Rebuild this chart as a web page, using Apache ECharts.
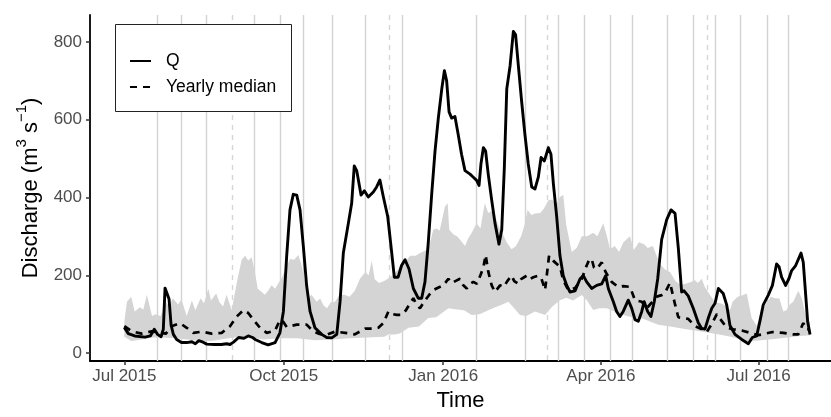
<!DOCTYPE html>
<html>
<head>
<meta charset="utf-8">
<script src="https://cdn.jsdelivr.net/npm/echarts@6/dist/echarts.min.js"></script>
<style>
  html, body { margin: 0; padding: 0; background: #fff; }
  #chart { width: 831px; height: 417px; }
</style>
</head>
<body>
<div id="chart"></div>
<script>
// Day offsets are counted from 1 July 2015 (UTC)
const START = Date.UTC(2015, 6, 1);
const DAY_MS = 86400000;

// Observed discharge Q (m3/s)
const qDays = [0, 2.3, 6, 12, 15, 17.3, 19.2, 21.2, 22.5, 23.5, 24.4, 25.8, 27, 28.3, 30.2, 33, 36, 39, 41, 43, 45, 47.5, 52, 56, 59, 61, 63, 66, 69, 71.5, 74, 75.5, 79.3, 83, 87, 89.8, 91.8, 93.7, 95.6, 97.5, 99.5, 101.4, 103.3, 105.2, 107.2, 110, 113.9, 116.8, 119.7, 122.6, 124.5, 126.4, 129.3, 131.2, 132.7, 134.1, 136.6, 138.5, 140.8, 143.7, 145.6, 147.5, 149.5, 152, 154.3, 155.8, 158, 160, 162, 164.3, 166.8, 169.6, 171.6, 173.5, 175.4, 177.4, 179.3, 181.2, 183.2, 184.7, 186, 187.4, 188.9, 190.8, 192.7, 194.6, 196.6, 199.5, 201.4, 203.3, 204.7, 205.8, 207.2, 208.5, 210, 212, 213.9, 216.2, 217.8, 219.3, 220.7, 222.6, 224.5, 225.8, 227.4, 229.3, 231.2, 233.1, 235.1, 237, 238.9, 240.5, 242.4, 244.7, 246.2, 247.6, 249.5, 251.4, 253.3, 255.3, 257.2, 260.1, 263, 264.9, 266.8, 269.7, 272.6, 275.5, 277.8, 279.3, 282.2, 284.1, 286, 287.9, 290.8, 292.8, 294.7, 296.6, 298.6, 300, 302, 303.9, 305.8, 307.8, 310.1, 313, 315.5, 317.8, 319.7, 321.6, 323, 325.4, 328.3, 331.2, 333.2, 335.1, 337, 339, 340.9, 342.8, 345.6, 347.6, 349.5, 352.4, 356.3, 360.1, 362.4, 364.9, 366.8, 368.7, 371.6, 374, 376.4, 377.8, 379.3, 381.6, 383.5, 385.1, 387.4, 390.5, 391.8, 393.2, 394.3, 395.7];
const qValues = [66, 50, 44, 41, 44, 61, 48, 42, 61, 167, 165, 139, 72, 48, 35, 27, 27, 29, 24, 32, 29, 23, 22, 22, 24, 22, 28, 40, 38, 44, 40, 35, 27, 21, 27, 52, 107, 250, 368, 408, 406, 368, 275, 174, 107, 65, 48, 40, 39, 48, 132, 258, 334, 385, 481, 469, 406, 417, 401, 414, 427, 445, 401, 351, 258, 195, 195, 225, 240, 216, 166, 141, 141, 183, 284, 410, 519, 604, 679, 726, 700, 620, 604, 608, 561, 511, 469, 460, 452, 444, 431, 486, 528, 519, 460, 393, 334, 280, 317, 477, 679, 738, 827, 818, 738, 646, 561, 486, 427, 422, 452, 503, 494, 528, 511, 435, 351, 250, 199, 174, 157, 160, 191, 199, 183, 166, 174, 178, 199, 166, 132, 107, 94, 107, 136, 115, 86, 82, 107, 132, 107, 94, 132, 191, 292, 343, 368, 359, 270, 157, 160, 147, 115, 78, 63, 62, 90, 115, 128, 166, 153, 124, 71, 48, 35, 24, 40, 44, 82, 124, 149, 174, 229, 222, 195, 174, 191, 212, 225, 257, 233, 149, 82, 48];

// Yearly median discharge
const medianDays = [0, 4.3, 10, 15.8, 20.6, 24, 27.3, 32.1, 36, 39.8, 44.7, 50.4, 56.2, 61, 64.9, 68.7, 71.5, 74.4, 78.3, 82.2, 87, 89.8, 91.8, 93.7, 99.5, 105.2, 109, 112, 116, 121.6, 127.4, 133, 139, 144.7, 146.6, 149.5, 152.4, 155, 157.2, 160, 162.5, 164.9, 166.8, 168, 170.6, 172, 174.5, 176, 178.3, 181, 184.1, 187, 189, 191, 193.7, 195.5, 197.6, 199.5, 201.4, 203.5, 205.5, 207.2, 208.5, 210, 212, 213.9, 216.8, 219, 221, 223.5, 225, 227.4, 229, 232.2, 234, 236, 238.9, 240.8, 242.8, 245.1, 247.6, 251.4, 253.3, 256.2, 260.1, 264, 266.8, 268.3, 269.7, 271, 272.6, 275.5, 277.8, 281.2, 285, 288, 291.8, 294.7, 298.6, 301.4, 304, 307.2, 310.1, 312, 314.9, 317.8, 319.7, 322.6, 325.4, 329.3, 333, 336.1, 339, 341.9, 344.8, 347.6, 351.4, 356.3, 361, 365.8, 370, 374, 380.3, 386, 388.9, 391.8, 393.8, 395.7];
const medianValues = [69, 56, 50, 56, 52, 50, 69, 77, 65, 52, 55, 50, 52, 69, 94, 110, 103, 86, 65, 52, 58, 85, 80, 67, 73, 73, 56, 50, 46, 55, 52, 48, 63, 63, 65, 77, 107, 100, 98, 98, 110, 128, 141, 130, 115, 125, 141, 150, 162, 168, 174, 191, 180, 185, 191, 175, 166, 178, 183, 178, 200, 220, 252, 210, 174, 157, 174, 170, 185, 199, 185, 178, 190, 199, 190, 195, 199, 190, 162, 250, 237, 222, 187, 162, 167, 191, 225, 240, 242, 220, 216, 233, 208, 183, 170, 172, 170, 136, 132, 115, 128, 145, 149, 155, 181, 125, 92, 90, 88, 69, 62, 54, 75, 100, 82, 65, 61, 58, 52, 46, 50, 54, 52, 48, 48, 77, 60, 62];

// Range of discharge across years: upper and lower envelope
const bandUpperDays = [0, 1.5, 4, 6, 9, 11, 13, 16, 18, 21, 24, 26, 28, 31, 33, 36, 39, 41, 44, 46, 48.5, 50, 53, 55, 57, 59, 62, 65, 67.7, 69.7, 71.5, 73.5, 75.5, 77, 79.3, 81, 83, 85, 87, 89, 91, 93, 95.6, 98, 100.4, 102, 104.3, 106, 108, 111, 113, 115, 117, 119, 121.6, 124, 127, 130, 133, 136, 139, 141, 142.8, 144.5, 147, 150, 152.4, 155, 158, 160, 163, 165, 168, 171, 175.4, 178.3, 180, 182, 185, 186.6, 187.5, 190, 192, 194, 196.6, 198.5, 200.5, 203.3, 205.5, 208, 210, 212, 214, 216.5, 219, 220.7, 223.5, 226, 229, 231, 232.7, 235, 237, 240, 242, 244.7, 247, 249, 251.4, 253.3, 255, 258.2, 261, 264, 267, 270.6, 273, 276.4, 278.5, 280.3, 283, 285.5, 288, 291.8, 294, 297, 300, 302, 305, 309, 312, 315, 318, 321, 324, 327.4, 329.3, 331, 333.2, 335, 338, 341, 344, 347, 349.5, 351, 354, 357.2, 359.2, 362, 364.9, 367, 370, 373, 375.5, 378, 380.3, 382, 384, 386, 388.9, 391, 393, 395.7];
const bandUpperValues = [80, 132, 145, 107, 118, 112, 150, 95, 100, 95, 130, 120, 141, 125, 138, 95, 135, 110, 141, 128, 165, 135, 153, 130, 120, 150, 110, 183, 240, 250, 238, 246, 205, 165, 157, 150, 160, 174, 165, 180, 195, 216, 242, 240, 252, 230, 183, 141, 150, 132, 140, 122, 115, 130, 132, 149, 150, 145, 160, 191, 208, 200, 237, 190, 180, 185, 192, 200, 215, 233, 240, 250, 250, 258, 267, 317, 320, 315, 376, 385, 317, 305, 300, 290, 275, 295, 309, 334, 320, 385, 360, 365, 351, 320, 300, 284, 267, 275, 300, 330, 368, 355, 359, 360, 370, 393, 395, 380, 401, 406, 330, 260, 270, 300, 300, 309, 300, 334, 300, 267, 275, 260, 285, 300, 265, 285, 280, 270, 275, 229, 215, 208, 185, 175, 178, 183, 187, 180, 191, 170, 149, 130, 128, 122, 111, 132, 145, 149, 153, 90, 70, 100, 125, 145, 141, 140, 107, 110, 125, 132, 160, 140, 100, 80];
const bandLowerDays = [0, 4, 10, 16, 22, 30, 40, 50, 60, 70, 80, 90, 100, 110, 120, 130, 140, 150, 152.4, 156, 159, 164, 170, 175.4, 180, 187, 192, 196, 200.5, 205, 210, 214, 217.8, 221.6, 225, 228.3, 232, 237, 242.8, 247, 251.4, 255, 259, 264, 267, 270.6, 274, 278.4, 282, 287.9, 294.7, 299.5, 304, 308.2, 315, 324.5, 334, 343.3, 350, 359.2, 366, 375, 383, 389.9, 395.7];
const bandLowerValues = [42, 31, 35, 40, 40, 38, 33, 31, 38, 44, 35, 38, 38, 33, 35, 38, 40, 42, 48, 48, 50, 65, 68, 90, 92, 115, 112, 110, 98, 100, 110, 118, 124, 132, 115, 98, 95, 107, 98, 120, 136, 142, 135, 149, 135, 111, 115, 115, 108, 98, 90, 88, 80, 73, 68, 61, 55, 48, 42, 31, 32, 36, 40, 44, 46];

// Vertical reference lines: sampling dates (solid) and season starts (dashed)
const sampleDates = ['2015-07-20', '2015-08-03', '2015-08-17', '2015-09-14', '2015-09-29', '2015-10-12', '2015-10-29', '2015-11-17', '2015-12-08', '2016-01-20', '2016-02-17', '2016-03-07', '2016-03-22', '2016-04-06', '2016-04-19', '2016-05-09', '2016-05-24', '2016-06-06', '2016-06-20', '2016-07-06', '2016-07-18'];
const seasonStarts = ['2015-09-01', '2015-12-01', '2016-03-01', '2016-06-01'];

// Axis ticks
const xTickDates = ['2015-07-01', '2015-10-01', '2016-01-01', '2016-04-01', '2016-07-01'];
const xTickLabels = ['Jul 2015', 'Oct 2015', 'Jan 2016', 'Apr 2016', 'Jul 2016'];
const yTicks = [0, 200, 400, 600, 800];

const dayToMs = d => START + d * DAY_MS;
const pairs = (days, vals) => days.map((d, i) => [dayToMs(d), vals[i]]);
const xTickMs = xTickDates.map(s => Date.parse(s));

const FONT = '"Liberation Sans", Arial, Helvetica, sans-serif';

function vlineSeries(name, dates, style) {
  return {
    name: name,
    type: 'custom',
    z: 1,
    silent: true,
    data: dates.map(s => [Date.parse(s), 0]),
    renderItem: function (params, api) {
      const cs = params.coordSys;
      const x = Math.round(api.coord([api.value(0), 0])[0]) + 0.5;
      return {
        type: 'line',
        shape: { x1: x, y1: cs.y, x2: x, y2: cs.y + cs.height },
        style: style
      };
    }
  };
}

const chart = echarts.init(document.getElementById('chart'), null, { renderer: 'canvas' });

chart.setOption({
  animation: false,
  backgroundColor: '#ffffff',
  textStyle: { fontFamily: FONT },
  grid: { left: 90, right: 0, top: 15, bottom: 50 },
  xAxis: {
    type: 'value',
    min: dayToMs(-19.8),
    max: dayToMs(407.8),
    name: 'Time',
    nameLocation: 'middle',
    nameGap: 29,
    nameTextStyle: { fontSize: 22, color: '#000', fontFamily: FONT },
    splitLine: { show: false },
    axisLine: { show: true, onZero: false, lineStyle: { color: '#000', width: 1.8 } },
    axisTick: { show: true, length: 4, customValues: xTickMs, lineStyle: { color: '#333', width: 1.5 } },
    axisLabel: {
      customValues: xTickMs,
      margin: 7,
      fontSize: 17,
      color: '#4d4d4d',
      fontFamily: FONT,
      formatter: function (v) {
        const i = xTickMs.indexOf(v);
        return i >= 0 ? xTickLabels[i] : '';
      }
    }
  },
  yAxis: {
    type: 'value',
    min: -20.4,
    max: 869,
    name: '{t|Discharge (m}{s|3}{t| s}{s|−1}{t|)}',
    nameLocation: 'middle',
    nameRotate: 90,
    nameGap: 48,
    nameTextStyle: {
      color: '#000',
      fontFamily: FONT,
      rich: {
        t: { fontSize: 22, lineHeight: 28, verticalAlign: 'bottom', color: '#000', fontFamily: FONT },
        s: { fontSize: 15, lineHeight: 28, verticalAlign: 'top', color: '#000', fontFamily: FONT }
      }
    },
    splitLine: { show: false },
    axisLine: { show: true, onZero: false, lineStyle: { color: '#000', width: 1.8 } },
    axisTick: { show: true, length: 4, customValues: yTicks, lineStyle: { color: '#333', width: 1.5 } },
    axisLabel: { customValues: yTicks, margin: 8, fontSize: 17, color: '#4d4d4d', fontFamily: FONT }
  },
  legend: {
    data: ['Q', 'Yearly median'],
    orient: 'vertical',
    left: 129,
    top: 51,
    padding: 0,
    itemWidth: 21,
    itemHeight: 20,
    itemGap: 6,
    z: 20,
    selectedMode: false,
    itemStyle: { opacity: 0 },
    textStyle: { fontSize: 17.5, color: '#000', fontFamily: FONT, lineHeight: 20, padding: [0, 0, 0, 10] }
  },
  graphic: [{
    type: 'rect',
    z: 15,
    shape: { x: 115.5, y: 24.5, width: 176, height: 87 },
    style: { fill: '#ffffff', stroke: '#222', lineWidth: 1 }
  }],
  series: [
    vlineSeries('samples', sampleDates, { stroke: '#d2d2d2', lineWidth: 1.4 }),
    vlineSeries('seasons', seasonStarts, { stroke: '#d6d6d6', lineWidth: 1.4, lineDash: [5, 5] }),
    {
      name: 'range',
      type: 'custom',
      z: 2,
      silent: true,
      data: [[dayToMs(bandUpperDays[0]), bandUpperValues[0]]],
      renderItem: function (params, api) {
        const pts = [];
        bandUpperDays.forEach((d, i) => pts.push(api.coord([dayToMs(d), bandUpperValues[i]])));
        for (let i = bandLowerDays.length - 1; i >= 0; i--) {
          pts.push(api.coord([dayToMs(bandLowerDays[i]), bandLowerValues[i]]));
        }
        return { type: 'polygon', shape: { points: pts }, style: { fill: '#d4d4d4' } };
      }
    },
    {
      name: 'Yearly median',
      type: 'line',
      z: 3,
      symbol: 'none',
      showSymbol: false,
      data: pairs(medianDays, medianValues),
      lineStyle: { color: '#000', width: 2.7, type: [7, 6], cap: 'butt' },
      itemStyle: { color: '#000' }
    },
    {
      name: 'Q',
      type: 'line',
      z: 4,
      symbol: 'none',
      showSymbol: false,
      data: pairs(qDays, qValues),
      lineStyle: { color: '#000', width: 2.9, join: 'round' },
      itemStyle: { color: '#000' }
    }
  ]
});
</script>
</body>
</html>
